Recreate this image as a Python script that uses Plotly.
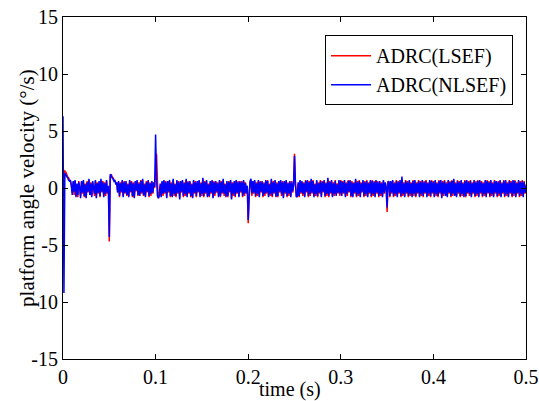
import numpy as np
import plotly.graph_objects as go

# sample times (s)
t_step = 0.001
n_samples = 501
time_s = np.round(np.arange(n_samples) * t_step, 4)

adrc_nlsef = [
    6.3, -9.2, 1.3, 1.2, 1.0, 0.9, 0.7, 0.6, 0.7, 0.2,
    -0.6, 0.6, -0.3, 0.7, -0.8, 0.4, -0.6, 0.5, 0.1, -0.9,
    0.6, -0.4, 0.7, -0.7, 0.3, -0.9, 0.5, -0.3, 0.8, -0.6,
    0.4, -0.8, 0.6, 0.1, -0.5, 0.7, -0.9, 0.4, -0.4, 0.6,
    -0.7, 0.8, -0.3, 0.5, -0.8, 0.4, -0.5, 0.7, -0.4, 0.2,
    -4.3, 1.2, 1.1, 0.9, 0.8, 0.6, 0.7, 0.3, 0.5, -0.4,
    0.6, -0.7, 0.4, -0.3, 0.7, -0.8, 0.5, -0.4, 0.6, -0.6,
    0.3, -0.8, 0.7, -0.3, 0.5, -0.7, 0.4, -0.9, 0.6, -0.2,
    0.7, -0.6, 0.4, -0.7, 0.6, -0.4, 0.8, -0.6, 0.3, -0.8,
    0.5, -0.3, 0.7, -0.7, 0.4, -0.5, 0.6, -0.4, 0.5, 0.1,
    4.7, 0.8, -0.7, -0.9, -0.6, 0.4, -0.8, 0.6, -0.5, 0.7,
    -0.4, 0.5, -0.9, 0.6, -0.3, 0.7, -0.7, 0.4, -0.8, 0.8,
    -0.5, 0.3, -0.7, 0.7, -0.4, 0.5, -1.0, 0.6, -0.3, 0.7,
    -0.7, 0.4, -0.5, 0.8, -0.8, 0.5, -0.4, 0.6, -0.7, 0.3,
    -0.9, 0.7, -0.4, 0.5, -0.7, 0.6, -0.3, 0.7, -0.8, 0.4,
    -0.5, 0.9, -0.7, 0.5, -0.4, 0.7, -0.8, 0.3, -0.7, 0.6,
    -0.4, 0.7, -0.9, 0.5, -0.5, 0.6, -0.3, 0.4, -0.8, 0.7,
    -0.7, 0.5, -0.4, 0.8, -0.5, 0.3, -0.8, 0.6, -0.7, 0.5,
    -0.3, 0.7, -1.0, 0.4, -0.5, 0.6, -0.7, 0.7, -0.4, 0.5,
    -0.8, 0.6, -0.3, 0.5, -0.7, 0.7, -0.5, 0.4, -0.4, 0.2,
    -2.8, -0.7, 0.6, 0.8, -0.5, 0.6, -0.4, 0.7, -0.7, 0.4,
    -0.5, 0.7, -0.8, 0.5, -0.3, 0.6, -0.7, 0.4, -0.5, 0.7,
    -0.4, 0.6, -0.8, 0.3, -0.5, 0.8, -0.7, 0.5, -0.4, 0.7,
    -0.8, 0.4, -0.7, 0.6, -0.3, 0.7, -0.5, 0.5, -0.9, 0.6,
    -0.4, 0.7, -0.7, 0.4, -0.5, 0.6, -0.8, 0.5, -0.3, 0.3,
    2.8, 0.3, -0.8, -0.7, 0.5, -0.7, 0.7, -0.4, 0.6, -0.5,
    0.4, -0.8, 0.6, -0.3, 0.7, -0.7, 0.5, -0.5, 0.8, -0.4,
    0.6, -0.8, 0.3, -0.5, 0.7, -0.7, 0.4, -0.4, 0.6, -0.8,
    0.5, -0.3, 0.7, -0.7, 0.4, -0.5, 0.9, -0.7, 0.5, -0.4,
    0.7, -0.8, 0.4, -0.5, 0.6, -0.7, 0.3, -0.4, 0.7, -0.5,
    0.6, -0.7, 0.5, -0.4, 0.7, -0.8, 0.4, -0.5, 0.6, -0.3,
    0.7, -0.7, 0.5, -0.8, 0.4, -0.4, 0.8, -0.7, 0.5, -0.5,
    0.6, -0.8, 0.4, -0.3, 0.7, -0.7, 0.5, -0.5, 0.6, -0.8,
    0.4, -0.4, 0.7, -0.7, 0.6, -0.5, 0.5, -0.8, 0.7, -0.4,
    0.5, -0.7, 0.6, -0.5, 0.4, -0.8, 0.7, -0.4, 0.5, 0.1,
    -1.7, 0.6, 0.5, -0.7, 0.6, -0.4, 0.7, -0.7, 0.4, -0.5,
    0.6, -0.8, 0.5, -0.4, 0.7, -0.7, 1.0, -0.5, 0.4, -0.8,
    0.6, -0.4, 0.5, -0.7, 0.7, -0.5, 0.4, -0.8, 0.6, -0.5,
    0.7, -0.7, 0.4, -0.4, 0.6, -0.8, 0.5, -0.5, 0.7, -0.7,
    0.5, -0.4, 0.6, -0.8, 0.4, -0.5, 0.7, -0.7, 0.6, -0.4,
    0.5, -0.8, 0.7, -0.5, 0.4, -0.7, 0.6, -0.4, 0.7, -0.9,
    0.5, -0.5, 0.6, -0.7, 0.4, -0.8, 0.7, -0.4, 0.5, -0.7,
    0.6, -0.5, 0.8, -0.7, 0.4, -0.8, 0.6, -0.4, 0.5, -0.7,
    0.7, -0.5, 0.4, -0.8, 0.6, -0.7, 0.7, -0.4, 0.5, -0.5,
    0.6, -0.8, 0.4, -0.4, 0.7, -0.7, 0.5, -0.5, 0.6, -0.8,
    0.7, -0.4, 0.5, -0.7, 0.4, -0.5, 0.7, -0.8, 0.6, -0.4,
    0.5, -0.7, 0.7, -0.5, 0.4, -0.8, 0.6, -0.4, 0.6, -0.7,
    0.5, -0.5, 0.7, -0.8, 0.4, -0.4, 0.6, -0.7, 0.7, -0.5,
    0.4, -0.8, 0.6, -0.4, 0.5, -0.7, 0.7, -0.5, 0.6, -0.8,
    0.4, -0.4, 0.7, -0.7, 0.5, -0.5, 0.6, -0.8, 0.5, -0.4,
    0.2,
]

adrc_lsef = [
    -3.3, 1.3, 1.5, 1.4, 1.2, 1.0, 0.9, 0.7, 0.6, 0.3,
    -0.4, 0.5, -0.6, 0.6, -0.7, 0.3, -0.8, 0.6, 0.0, -0.7,
    0.5, -0.5, 0.6, -0.8, 0.4, -0.8, 0.6, -0.4, 0.7, -0.6,
    0.5, -0.7, 0.5, 0.0, -0.7, 0.6, -0.8, 0.5, -0.5, 0.5,
    -0.8, 0.7, -0.4, 0.6, -0.7, 0.5, -0.7, 0.6, -0.5, 0.1,
    -4.7, 1.0, 1.2, 1.0, 0.9, 0.7, 0.6, 0.5, 0.4, -0.3,
    0.5, -0.8, 0.5, -0.4, 0.6, -0.7, 0.6, -0.5, 0.5, -0.7,
    0.4, -0.7, 0.6, -0.4, 0.6, -0.8, 0.5, -0.8, 0.5, -0.3,
    0.6, -0.7, 0.5, -0.5, 0.7, -0.5, 0.7, -0.7, 0.4, -0.7,
    0.6, -0.4, 0.6, -0.8, 0.5, -0.7, 0.5, -0.5, 0.4, 0.0,
    1.5, 3.0, 0.5, -0.9, -0.7, 0.2, -0.7, 0.5, -0.7, 0.6,
    -0.5, 0.6, -0.8, 0.5, -0.4, 0.6, -0.8, 0.5, -0.7, 0.7,
    -0.7, 0.4, -0.8, 0.6, -0.5, 0.6, -0.9, 0.5, -0.4, 0.6,
    -0.8, 0.5, -0.7, 0.7, -0.7, 0.6, -0.5, 0.5, -0.8, 0.4,
    -0.8, 0.6, -0.5, 0.6, -0.8, 0.5, -0.4, 0.6, -0.7, 0.5,
    -0.7, 0.8, -0.8, 0.6, -0.5, 0.6, -0.7, 0.4, -0.8, 0.5,
    -0.5, 0.6, -0.8, 0.6, -0.7, 0.5, -0.4, 0.5, -0.7, 0.6,
    -0.8, 0.6, -0.5, 0.7, -0.7, 0.4, -0.7, 0.5, -0.8, 0.6,
    -0.4, 0.6, -0.9, 0.5, -0.7, 0.5, -0.8, 0.6, -0.5, 0.6,
    -0.7, 0.5, -0.4, 0.6, -0.8, 0.6, -0.7, 0.5, -0.5, 0.1,
    -3.1, -0.9, 0.5, 0.7, -0.7, 0.5, -0.5, 0.6, -0.8, 0.5,
    -0.7, 0.6, -0.7, 0.6, -0.4, 0.5, -0.8, 0.5, -0.7, 0.6,
    -0.5, 0.7, -0.7, 0.4, -0.7, 0.7, -0.8, 0.6, -0.5, 0.6,
    -0.7, 0.5, -0.8, 0.5, -0.4, 0.6, -0.7, 0.6, -0.8, 0.5,
    -0.5, 0.6, -0.8, 0.5, -0.7, 0.5, -0.7, 0.6, -0.4, 0.2,
    3.0, 0.5, -0.7, -0.8, 0.4, -0.8, 0.6, -0.5, 0.5, -0.7,
    0.5, -0.7, 0.7, -0.4, 0.6, -0.8, 0.6, -0.7, 0.7, -0.5,
    0.7, -0.7, 0.4, -0.7, 0.6, -0.8, 0.5, -0.5, 0.7, -0.7,
    0.6, -0.4, 0.6, -0.8, 0.5, -0.7, 0.8, -0.8, 0.6, -0.5,
    0.6, -0.7, 0.5, -0.7, 0.7, -0.5, 0.4, -0.5, 0.6, -0.7,
    0.7, -0.5, 0.6, -0.5, 0.6, -0.7, 0.5, -0.7, 0.7, -0.4,
    0.6, -0.8, 0.6, -0.7, 0.5, -0.5, 0.7, -0.8, 0.6, -0.7,
    0.7, -0.7, 0.5, -0.4, 0.6, -0.8, 0.6, -0.7, 0.7, -0.7,
    0.5, -0.5, 0.6, -0.8, 0.7, -0.7, 0.6, -0.7, 0.6, -0.5,
    0.6, -0.8, 0.5, -0.7, 0.5, -0.7, 0.6, -0.5, 0.4, 0.0,
    -2.1, 0.5, 0.6, -0.8, 0.5, -0.5, 0.6, -0.8, 0.5, -0.7,
    0.7, -0.7, 0.6, -0.5, 0.6, -0.8, 0.8, -0.7, 0.5, -0.7,
    0.7, -0.5, 0.6, -0.8, 0.6, -0.7, 0.5, -0.7, 0.7, -0.7,
    0.6, -0.8, 0.5, -0.5, 0.7, -0.7, 0.6, -0.7, 0.6, -0.8,
    0.6, -0.5, 0.7, -0.7, 0.5, -0.7, 0.6, -0.8, 0.7, -0.5,
    0.6, -0.7, 0.6, -0.7, 0.5, -0.8, 0.7, -0.5, 0.6, -0.8,
    0.6, -0.7, 0.7, -0.5, 0.5, -0.7, 0.6, -0.5, 0.6, -0.8,
    0.7, -0.7, 0.7, -0.5, 0.5, -0.7, 0.7, -0.5, 0.6, -0.8,
    0.6, -0.7, 0.5, -0.7, 0.7, -0.8, 0.6, -0.5, 0.6, -0.7,
    0.7, -0.7, 0.5, -0.5, 0.6, -0.8, 0.6, -0.7, 0.7, -0.7,
    0.6, -0.5, 0.6, -0.8, 0.5, -0.7, 0.6, -0.7, 0.7, -0.5,
    0.6, -0.8, 0.6, -0.7, 0.5, -0.7, 0.7, -0.5, 0.5, -0.8,
    0.6, -0.7, 0.6, -0.7, 0.5, -0.5, 0.7, -0.8, 0.6, -0.7,
    0.5, -0.7, 0.7, -0.5, 0.6, -0.8, 0.6, -0.7, 0.7, -0.7,
    0.5, -0.5, 0.6, -0.8, 0.6, -0.7, 0.7, -0.7, 0.6, -0.5,
    0.3,
]

x_tick_vals = [0, 0.1, 0.2, 0.3, 0.4, 0.5]
x_tick_text = ["0", "0.1", "0.2", "0.3", "0.4", "0.5"]
y_tick_vals = [-15, -10, -5, 0, 5, 10, 15]
y_tick_text = ["-15", "-10", "-5", "0", "5", "10", "15"]
x_title = "time (s)"
y_title = "platform angle velocity (°/s)"

assert len(adrc_nlsef) == n_samples and len(adrc_lsef) == n_samples

FONT = "Liberation Serif, Times New Roman, serif"
FS = 20

fig = go.Figure()
fig.add_trace(go.Scatter(x=time_s, y=adrc_lsef, mode="lines", name="ADRC(LSEF)",
                         line=dict(color="#ff0000", width=1.5, simplify=False)))
fig.add_trace(go.Scatter(x=time_s, y=adrc_nlsef, mode="lines", name="ADRC(NLSEF)",
                         line=dict(color="#0000ff", width=1.5, simplify=False)))

axis_common = dict(showgrid=False, zeroline=False, showline=True, linecolor="black",
                   linewidth=1, mirror="ticks", ticks="inside", ticklen=5,
                   tickcolor="black", automargin=False,
                   tickfont=dict(family=FONT, size=FS, color="black"))

fig.update_xaxes(range=[0, 0.5], tickvals=x_tick_vals, ticktext=x_tick_text, **axis_common)
fig.update_yaxes(range=[-15, 15], tickvals=y_tick_vals, ticktext=y_tick_text, **axis_common)

fig.add_annotation(text=y_title, xref="paper", yref="paper", x=-0.078, y=0.5,
                   xanchor="center", yanchor="middle", textangle=-90, showarrow=False,
                   font=dict(family=FONT, size=21, color="black"))
fig.add_annotation(text=x_title, xref="paper", yref="paper", x=0.49, y=-0.09,
                   xanchor="center", yanchor="middle", showarrow=False,
                   font=dict(family=FONT, size=FS, color="black"))

fig.update_layout(
    width=539, height=401,
    margin=dict(l=63, r=13, t=17, b=42, autoexpand=False),
    paper_bgcolor="white", plot_bgcolor="white",
    showlegend=True,
    legend=dict(x=0.972, y=0.947, xanchor="right", yanchor="top",
                bordercolor="black", borderwidth=1, bgcolor="white",
                font=dict(family=FONT, size=FS, color="black"),
                tracegroupgap=0, itemwidth=40),
)

# remove the default 8px page margin so the figure sits at the window origin
fig.write_html("out.html", config={"displayModeBar": False},
               post_script="document.body.style.margin='0';")
